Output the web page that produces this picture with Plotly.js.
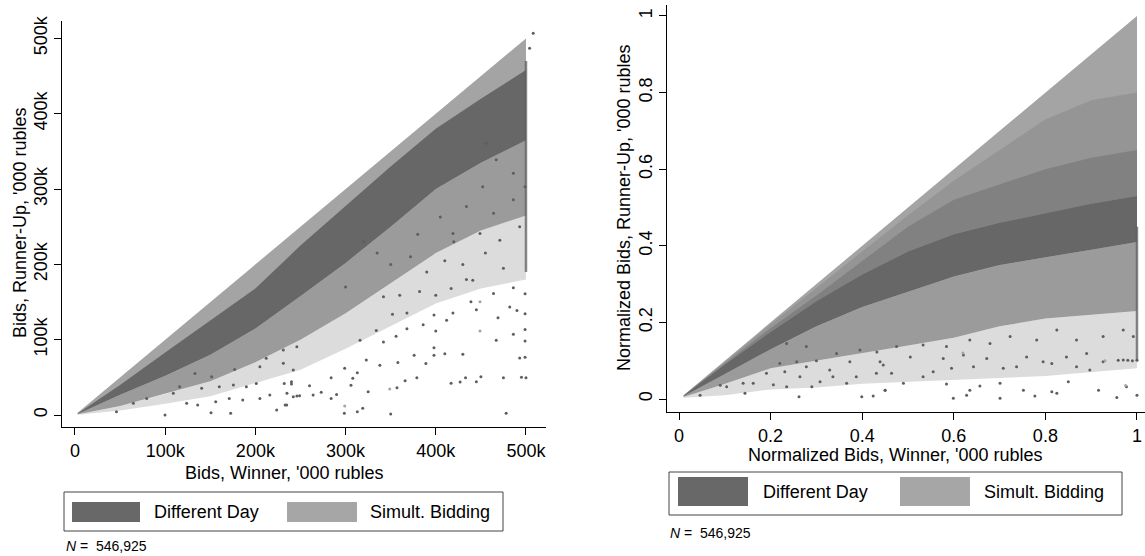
<!DOCTYPE html>
<html>
<head>
<meta charset="utf-8">
<script src="https://cdn.plot.ly/plotly-3.0.1.min.js"></script>
<style>html,body{margin:0;padding:0;background:#fff;}#chart{width:1145px;height:556px;}</style>
</head>
<body>
<div id="chart"></div>
<script>
// ---------- LEFT PANEL: bids in '000 rubles, expressed in k ----------
const leftTickVals = [0, 100, 200, 300, 400, 500];
const leftTickText = ['0', '100k', '200k', '300k', '400k', '500k'];

// Density bands (shared x positions, top to bottom)
const leftBandX      = [3, 50, 100, 150, 200, 250, 300, 350, 400, 450, 500];
const leftDiagY      = [3, 50, 100, 150, 200, 250, 300, 350, 400, 450, 500];
const leftDenseTopY  = [2, 40, 83, 125, 168, 225, 278, 330, 380, 420, 458];
const leftDenseBotY  = [1.5, 27, 52, 80, 115, 158, 202, 250, 300, 335, 365];
const leftSpeckBotY  = [1, 12, 28, 45, 70, 100, 135, 175, 215, 245, 265];
const leftFaintBotY  = [0.5, 6, 15, 25, 42, 60, 88, 118, 148, 168, 180];

// Column of bids capped at 500k
const leftCapX = [500, 500];
const leftCapY = [470, 190];

// Sparse different-day points
const leftSparseX = [99.8,150.8,172.6,223.6,234.7,123.8,136,156,171,186,205,216,235,246,175.6,190,201,232,240,140.4,160,109,116,133,151.5,177,205,212,231,242,231,246,64.7,79.5,46,
298.6,313,319,350,478,284,290,249,264,273,242,233,240,260,306,325,357,366,379,417,427,433,445,450,475,495,500,284,299,313,308,323,338,358,376,389,398,410,430,493,499,398,342,356,368,334,316,400,467,486,499,499,412,386,419,445,469,482,490,499,398,368,352,342,360,382,400,417,439,464,486,499,441,434,
456,467,486,452,434,464,486,493,449,419,405,471,499,508,504,
320,335,350,372,390,410,430,455,475,380,420,300];
const leftSparseY = [0,3.1,2.2,6.6,13.3,15.5,13.3,17.7,22.1,19.9,22.1,26.6,28.8,25.2,39.8,37.6,42,42,44.3,35.4,37.6,28.8,37.6,55.3,50.9,60.6,64.2,75.3,68.6,59.7,86.3,90.7,15.5,22.1,4.4,
2.2,4.4,9,1.3,2.2,22.1,27.4,25.6,26.6,30.2,24.3,13.2,41.1,38.8,39.7,31,36.3,45.6,49.6,42.1,43.8,49.6,44.3,50.9,49.6,50,49.6,49.6,62,56.2,48.7,73.1,66,69.6,79.3,68.3,79.3,81.5,80.6,75.7,76.6,89.4,97,104.5,114.6,112.4,99.2,111.5,99.2,107.1,98.3,113.7,125.7,120,135.4,139.8,129.2,143.3,138.9,134.5,132.8,135.4,133.7,157,159,164,159,168,150.5,161.4,169,161,179,180,
361,339,321,303,277,268,286,250,241,241,263,232,303,507,487,
230,215,200,210,190,205,200,215,195,240,230,170];

const leftLightX = [299, 349, 449, 449];
const leftLightY = [11.9, 34.5, 111.5, 150.5];

// ---------- RIGHT PANEL: normalized bids ----------
const rightTickVals = [0, 0.2, 0.4, 0.6, 0.8, 1];
const rightTickText = ['0', '0.2', '0.4', '0.6', '0.8', '1'];

const rightBandX       = [0.01, 0.1, 0.2, 0.3, 0.4, 0.5, 0.6, 0.7, 0.8, 0.9, 1];
const rightDiagY       = [0.01, 0.1, 0.2, 0.3, 0.4, 0.5, 0.6, 0.7, 0.8, 0.9, 1];
const rightSpotTopY    = [0.01, 0.098, 0.195, 0.29, 0.385, 0.48, 0.57, 0.65, 0.73, 0.78, 0.8];
const rightMixedTopY   = [0.0095, 0.093, 0.185, 0.27, 0.36, 0.45, 0.52, 0.56, 0.6, 0.63, 0.65];
const rightDenseTopY   = [0.009, 0.09, 0.175, 0.255, 0.325, 0.385, 0.43, 0.46, 0.485, 0.51, 0.53];
const rightDenseBotY   = [0.007, 0.065, 0.13, 0.19, 0.24, 0.28, 0.32, 0.35, 0.37, 0.39, 0.41];
const rightSpeckBotY   = [0.005, 0.04, 0.08, 0.10, 0.12, 0.14, 0.16, 0.19, 0.21, 0.22, 0.23];
const rightFaintBotY   = [0.003, 0.01, 0.025, 0.03, 0.04, 0.045, 0.05, 0.055, 0.06, 0.07, 0.08];

const rightCapX = [1, 1];
const rightCapY = [0.45, 0.1];

const rightSparseX = [0.599,0.628,0.701,0.777,0.825,0.956,1.0,0.45,0.49,0.533,0.584,0.635,0.657,0.701,0.752,0.814,0.85,0.897,0.916,0.977,0.464,0.555,0.595,0.643,0.708,0.737,0.795,0.814,0.868,0.926,0.959,0.97,0.98,0.99,1.0,0.439,0.505,0.577,0.621,0.672,0.759,0.846,0.89,0.432,0.475,0.533,0.584,0.635,0.679,0.723,0.781,0.825,0.868,0.926,0.97,0.992,
0.262,0.144,0.162,0.104,0.206,0.235,0.29,0.308,0.366,0.399,0.424,0.45,0.336,0.387,0.264,0.14,0.191,0.231,0.22,0.278,0.329,0.431,0.446,0.373,0.3,0.257,0.344,0.395,0.278,0.235,0.09,0.046];
const rightSparseY = [0.002,0.010,0.002,0.008,0.015,0.004,0.010,0.023,0.041,0.058,0.039,0.023,0.034,0.041,0.023,0.019,0.045,0.076,0.023,0.032,0.067,0.071,0.08,0.084,0.08,0.084,0.097,0.093,0.084,0.097,0.101,0.102,0.101,0.1,0.101,0.097,0.11,0.106,0.115,0.106,0.11,0.11,0.119,0.123,0.137,0.141,0.137,0.154,0.145,0.163,0.154,0.18,0.154,0.163,0.18,0.163,
0.006,0.015,0.041,0.032,0.037,0.032,0.032,0.045,0.041,0.006,0.008,0.023,0.058,0.058,0.058,0.041,0.067,0.071,0.093,0.084,0.076,0.067,0.089,0.097,0.1,0.097,0.119,0.128,0.137,0.145,0.036,0.010];

const rightLightX = [0.975, 0.93, 0.62];
const rightLightY = [0.035, 0.1, 0.12];

// ---------- styling ----------
const FONT = 'Liberation Sans, Arial, Helvetica, sans-serif';
const DARK = '#5e5e5e';
const LIGHT = '#a4a4a4';

function band(xs, topY, botY) {
  return { x: xs.concat(xs.slice().reverse()), y: topY.concat(botY.slice().reverse()) };
}
function poly(b, color, xa, ya, name) {
  return { type: 'scatter', mode: 'lines', x: b.x, y: b.y, fill: 'toself', fillcolor: color,
           line: { width: 0 }, hoverinfo: 'skip', showlegend: false, name: name, xaxis: xa, yaxis: ya };
}
function pts(x, y, color, xa, ya, name) {
  return { type: 'scatter', mode: 'markers', x: x, y: y, marker: { size: 3, color: color },
           showlegend: false, name: name, xaxis: xa, yaxis: ya };
}
function capLine(x, y, xa, ya) {
  return { type: 'scatter', mode: 'lines', x: x, y: y, line: { width: 2.5, color: 'rgba(94,94,94,0.75)' },
           showlegend: false, hoverinfo: 'skip', xaxis: xa, yaxis: ya, name: 'Different Day' };
}
const D = a => 'rgba(94,94,94,' + a + ')';

const traces = [
  poly(band(leftBandX, leftDiagY, leftDenseBotY), LIGHT, 'x', 'y', 'Simult. Bidding'),
  poly(band(leftBandX, leftDenseTopY, leftDenseBotY), D(0.88), 'x', 'y', 'Different Day'),
  poly(band(leftBandX, leftDenseBotY, leftSpeckBotY), D(0.62), 'x', 'y', 'Different Day'),
  poly(band(leftBandX, leftSpeckBotY, leftFaintBotY), D(0.22), 'x', 'y', 'Different Day'),
  capLine(leftCapX, leftCapY, 'x', 'y'),
  pts(leftSparseX, leftSparseY, DARK, 'x', 'y', 'Different Day'),
  pts(leftLightX, leftLightY, LIGHT, 'x', 'y', 'Simult. Bidding'),

  poly(band(rightBandX, rightDiagY, rightDenseBotY), LIGHT, 'x2', 'y2', 'Simult. Bidding'),
  poly(band(rightBandX, rightSpotTopY, rightMixedTopY), D(0.22), 'x2', 'y2', 'Different Day'),
  poly(band(rightBandX, rightMixedTopY, rightDenseTopY), D(0.5), 'x2', 'y2', 'Different Day'),
  poly(band(rightBandX, rightDenseTopY, rightDenseBotY), D(0.88), 'x2', 'y2', 'Different Day'),
  poly(band(rightBandX, rightDenseBotY, rightSpeckBotY), D(0.62), 'x2', 'y2', 'Different Day'),
  poly(band(rightBandX, rightSpeckBotY, rightFaintBotY), D(0.22), 'x2', 'y2', 'Different Day'),
  capLine(rightCapX, rightCapY, 'x2', 'y2'),
  pts(rightSparseX, rightSparseY, DARK, 'x2', 'y2', 'Different Day'),
  pts(rightLightX, rightLightY, LIGHT, 'x2', 'y2', 'Simult. Bidding')
];

const W = 1145, H = 556;
const px = v => v / W;
const py = v => 1 - v / H;

const axBase = {
  showline: true, linecolor: '#000', linewidth: 1, ticks: 'outside', ticklen: 7, tickwidth: 1,
  tickcolor: '#000', showgrid: false, zeroline: false, fixedrange: true,
  tickfont: { family: FONT, size: 18, color: '#000' }, automargin: false
};

const shapes = [];
const annotations = [];
function legendBox(bx0, by0, bx1, by1, d0, d1, l0, l1, sy0, sy1, tDark, tLight, ty) {
  shapes.push({ type: 'rect', xref: 'paper', yref: 'paper', x0: px(bx0), x1: px(bx1), y0: py(by1), y1: py(by0),
                line: { color: '#444', width: 1 }, fillcolor: 'rgba(0,0,0,0)' });
  shapes.push({ type: 'rect', xref: 'paper', yref: 'paper', x0: px(d0), x1: px(d1), y0: py(sy1), y1: py(sy0),
                line: { width: 0 }, fillcolor: '#686868' });
  shapes.push({ type: 'rect', xref: 'paper', yref: 'paper', x0: px(l0), x1: px(l1), y0: py(sy1), y1: py(sy0),
                line: { width: 0 }, fillcolor: '#a6a6a6' });
  annotations.push({ xref: 'paper', yref: 'paper', x: px(tDark), y: py(ty), xanchor: 'left', yanchor: 'middle',
                     text: 'Different Day', showarrow: false, font: { family: FONT, size: 18, color: '#000' } });
  annotations.push({ xref: 'paper', yref: 'paper', x: px(tLight), y: py(ty), xanchor: 'left', yanchor: 'middle',
                     text: 'Simult. Bidding', showarrow: false, font: { family: FONT, size: 18, color: '#000' } });
}
legendBox(64, 492, 503, 531, 72, 140, 287, 357, 502, 522, 152, 368, 512);
legendBox(669, 472, 1122, 515, 678, 748, 900, 970, 477, 506, 761, 982, 491.5);

function txt(x, y, text, size, angle) {
  annotations.push({ xref: 'paper', yref: 'paper', x: px(x), y: py(y), xanchor: 'center', yanchor: 'middle',
                     text: text, showarrow: false, textangle: angle || 0,
                     font: { family: FONT, size: size, color: '#000' } });
}
txt(284, 473, "Bids, Winner, '000 rubles", 18);
txt(20, 223, "Bids, Runner-Up, '000 rubles", 18, -90);
txt(895, 455, "Normalized Bids, Winner, '000 rubles", 18);
txt(624, 208, "Normalized Bids, Runner-Up, '000 rubles", 18, -90);
annotations.push({ xref: 'paper', yref: 'paper', x: px(64), y: py(546), xanchor: 'left', yanchor: 'middle',
                   text: '<i>N</i> =  546,925', showarrow: false, font: { family: FONT, size: 14, color: '#000' } });
annotations.push({ xref: 'paper', yref: 'paper', x: px(668), y: py(533), xanchor: 'left', yanchor: 'middle',
                   text: '<i>N</i> =  546,925', showarrow: false, font: { family: FONT, size: 14, color: '#000' } });

const layout = {
  width: W, height: H, margin: { l: 0, r: 0, t: 0, b: 0 },
  paper_bgcolor: '#fff', plot_bgcolor: '#fff', showlegend: false,
  font: { family: FONT, size: 18, color: '#000' },
  xaxis: Object.assign({}, axBase, { domain: [px(62), px(546)], range: [-14.4, 522.2], anchor: 'y',
           tickvals: leftTickVals, ticktext: leftTickText }),
  yaxis: Object.assign({}, axBase, { domain: [py(427), py(21)], range: [-15.9, 523.2], anchor: 'x',
           tickvals: leftTickVals, ticktext: leftTickText, tickangle: -90 }),
  xaxis2: Object.assign({}, axBase, { domain: [px(666.7), 1], range: [-0.0269, 1.0175], anchor: 'y2',
           tickvals: rightTickVals, ticktext: rightTickText }),
  yaxis2: Object.assign({}, axBase, { domain: [py(412), py(5)], range: [-0.0339, 1.0287], anchor: 'x2',
           tickvals: rightTickVals, ticktext: rightTickText, tickangle: -90 }),
  shapes: shapes, annotations: annotations
};

Plotly.newPlot('chart', traces, layout, { displayModeBar: false, staticPlot: true });
</script>
</body>
</html>
